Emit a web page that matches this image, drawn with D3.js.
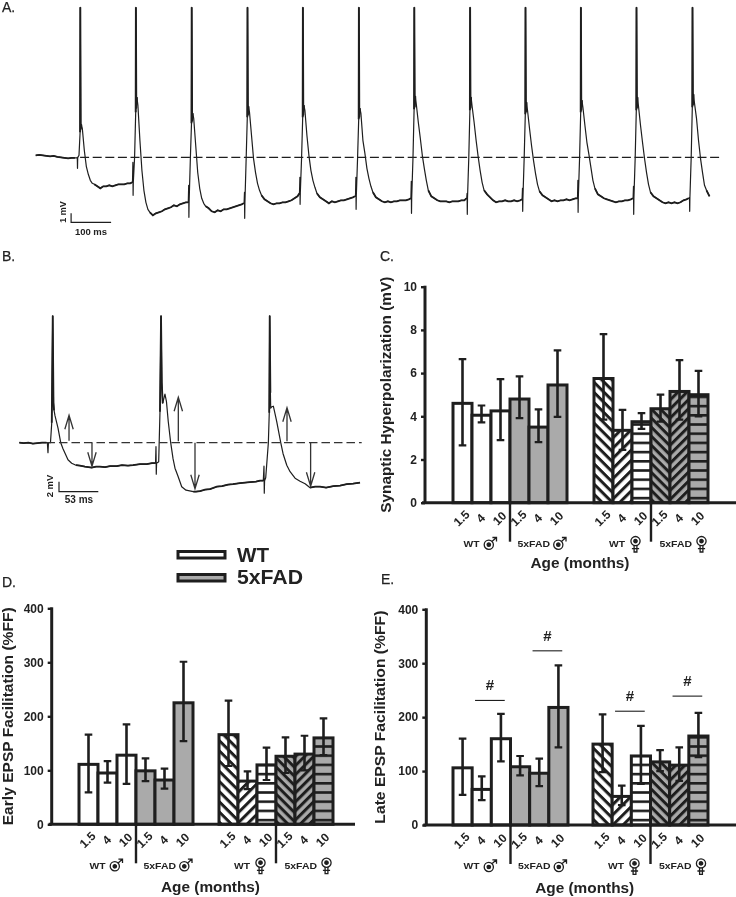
<!DOCTYPE html>
<html><head><meta charset="utf-8">
<script src="https://cdnjs.cloudflare.com/ajax/libs/d3/7.8.5/d3.min.js"></script>
<style>html,body{margin:0;padding:0;background:#fff}svg{display:block;filter:blur(.3px)}text{font-family:"Liberation Sans",Arial,sans-serif;fill:#222}</style>
</head><body><div id="chart"></div>
<script>
// ---------- bar data ----------
const ages = ["1.5","4","10","1.5","4","10","1.5","4","10","1.5","4","10"];
const groupLabels = ["WT","5xFAD","WT","5xFAD"];
const meanC = [4.6,4.05,4.25,4.8,3.5,5.45,5.75,3.35,3.75,4.35,5.15,5.0];
const upperC = [6.65,4.5,5.72,5.85,4.32,7.05,7.8,4.3,4.15,5.0,6.6,6.1];
const lowerC = [2.65,3.72,2.9,3.92,2.8,3.97,3.85,2.45,3.42,3.75,3.85,4.0];
const meanD = [111,95,128,99,82,225,166,80,110,126,130,160];
const upperD = [166,117,185,122,103,301,229,98,142,161,164,196];
const lowerD = [59,77,75,80,66,154,108,65,82,95,100,128];
const meanE = [106,66,160,108,96,218,150,53,128,117,111,165];
const upperE = [160,90,206,128,123,296,205,73,184,139,144,208];
const lowerE = [56,46,118,92,72,144,98,37,76,100,82,126];
const ticksC = [0,2,4,6,8,10];
const ticksFF = [0,100,200,300,400];
const hashStartE = [1,4,7,10];
const hashEndE = [2.7,5.7,8.7,11.7];
const hashValE = [231,323,211,239];

// ---------- trace A: samples relative to each stimulus ----------
const offsetsA = [-8.5,-7.5,-7,-6.5,-3.25,-0.5,0,1,2.5,5,10,15,20,25,30,35,42.5,50,57.5,65,72.5,80,87.5,95,102.5,110,117.5,125,130];
const stimA = [111.5,250.5,390,529.5,668,808,946.5,1086,1224.5,1363,1502,1642];
const baselineA_t = [0,9,18,27,36,45,54,63,72,81,90,98];
const baselineA_v = [0.2,0.25,0.2,0.15,0.1,0.15,0.05,0.0,-0.05,-0.1,-0.05,-0.05];
const sweepA1 = [-0.05,0.0,-1.1,-0.05,0.2,2.5,15,2.8,3.3,2.9,0.7,-0.9,-1.7,-2.3,-2.6,-2.7,-2.9,-3.1,-2.9,-2.9,-2.8,-2.9,-2.8,-2.7,-2.7,-2.7,-2.6,-2.6,-2.5];
const sweepA2 = [-2.5,-0.5,-3.8,-2.5,0,4.5,15,4.9,6.0,5.2,1.7,-1.3,-3.3,-4.5,-5.2,-5.5,-5.8,-5.6,-5.5,-5.4,-5.2,-5.1,-5.0,-4.8,-4.9,-4.7,-4.6,-4.5,-4.5];
const sweepA3 = [-4.5,-2.8,-6.0,-4.5,0,3.4,15,3.6,4.4,3.9,1.2,-1.5,-3.1,-4.1,-4.6,-4.9,-5.1,-5.4,-5.5,-5.3,-5.4,-5.2,-5.2,-5.1,-5.0,-4.9,-4.8,-4.7,-4.6];
const sweepA4 = [-4.6,-3.5,-6.1,-4.6,0,4.0,15,4.2,5.1,4.5,2.2,-0.1,-1.5,-2.6,-3.3,-3.8,-4.2,-4.4,-4.6,-4.7,-4.6,-4.6,-4.5,-4.5,-4.4,-4.3,-4.1,-3.9,-3.6];
const sweepA5 = [-3.6,-2.0,-4.7,-3.6,0,4.0,15,4.2,5.2,4.7,2.2,0.2,-1.3,-2.3,-3.0,-3.6,-4.0,-4.2,-4.4,-4.6,-4.4,-4.5,-4.4,-4.3,-4.3,-4.2,-4.1,-4.0,-3.9];
const sweepA6 = [-3.9,-2.0,-5.2,-3.9,0,3.8,15,4.0,4.9,4.4,1.7,0.4,-1.1,-2.1,-2.9,-3.5,-4.0,-4.2,-4.4,-4.5,-4.4,-4.5,-4.4,-4.4,-4.3,-4.3,-4.3,-4.2,-4.1];
const sweepA7 = [-4.1,-2.4,-5.6,-4.1,0,4.8,15,5.0,6.1,5.3,3.5,1.9,0.2,-1.1,-2.3,-3.3,-3.9,-4.1,-4.3,-4.4,-4.4,-4.4,-4.5,-4.4,-4.4,-4.4,-4.3,-4.3,-4.1];
const sweepA8 = [-4.1,-3.6,-5.7,-4.1,0,4.7,15,4.9,6.0,5.1,3.5,1.7,0.1,-1.3,-2.5,-3.3,-3.7,-4.0,-4.3,-4.5,-4.4,-4.4,-4.3,-4.4,-4.4,-4.3,-4.4,-4.3,-4.2];
const sweepA9 = [-4.2,-3.1,-5.4,-4.2,0,4.3,15,4.5,5.5,4.7,2.9,1.2,-0.3,-1.6,-2.7,-3.4,-3.8,-4.0,-4.2,-4.4,-4.3,-4.4,-4.3,-4.3,-4.2,-4.3,-4.2,-4.1,-4.1];
const sweepA10 = [-4.1,-2.3,-5.5,-4.1,0,4.5,15,4.7,5.7,5.0,3.2,1.5,0.3,-1.0,-2.3,-3.1,-3.7,-3.9,-4.1,-4.2,-4.3,-4.4,-4.5,-4.4,-4.4,-4.3,-4.3,-4.2,-4.1];
const sweepA11 = [-4.1,-2.9,-5.7,-4.1,0,4.7,15,4.9,6.0,5.1,3.2,1.5,-0.1,-1.5,-2.7,-3.5,-3.9,-4.1,-4.3,-4.5,-4.6,-4.5,-4.6,-4.5,-4.6,-4.5,-4.3,-4.2,-4.1];
const sweepA12 = [-4.1,-4.0,-5.4,-4.1,0,5.0,15,5.2,6.3,5.4,3.9,1.7,-0.1,-1.5,-2.8,-3.3,-3.9];
const sweepsA = [sweepA1,sweepA2,sweepA3,sweepA4,sweepA5,sweepA6,sweepA7,sweepA8,sweepA9,sweepA10,sweepA11,sweepA12];

// ---------- trace B ----------
const traceB_t = [0,6,12,18,24,30,36,37.2,38,38.6,41.3,43,44.3,45.3,46,47.3,51.3,54.9,57.9,60.6,64.5,69.4,75.1,80.4,87,95.9,101.6,106.9,113.6,120.2,129,136,144,150.7,159.9,168.8,175.8,180.5,181.1,181.5,181.9,184.7,186.4,187.8,188.8,190,193,195,197.4,200.6,203.7,206.3,210.3,215.2,220.9,230.6,234.1,239.4,246,252.7,261.6,268.6,276.5,283.1,292.4,299,305.6,313.6,318.9,323.3,324.2,324.6,325,326.5,330,331.2,331.8,332.7,333.1,334.8,336.6,338.8,341.1,346.4,349.5,354.4,358.8,365.4,372,378.7,385.3,391.9,398.5,406.5,416.1,425,433.9,442.3,451.5];
const traceB_v = [0.0,-0.1,0.0,-0.2,-0.1,0.0,0.0,0.0,-2.0,0.0,0.0,4,25.4,8,6.5,5.4,2.9,0,-1.2,-2.1,-3.4,-4.1,-4.5,-4.6,-4.8,-5.0,-4.8,-4.8,-4.9,-4.7,-4.7,-4.5,-4.6,-4.5,-4.3,-4.3,-4.1,-4.1,-0.8,-6.3,-4.1,-3.8,6.2,25.4,12,7.9,9.7,8.2,4.2,0,-3.2,-5.1,-6.7,-8.8,-9.5,-9.8,-9.8,-9.7,-9.4,-9.3,-8.8,-8.7,-8.4,-8.3,-8.1,-8.0,-7.9,-7.8,-7.6,-7.6,-4.7,-10.1,-7.6,-7,0,6,25.4,10,6.9,7.2,7.3,5.8,4.2,0,-2.2,-4.5,-5.8,-7.1,-7.7,-8.2,-9,-8.8,-8.8,-9,-8.7,-8.6,-8.3,-8.2,-8.0];
const arrowB_t = [65.9,96.3,210.7,232.8,354.7,386];
const arrowB_from = [0.4,0,0.3,0,0.3,0];
const arrowB_to = [5.5,-4.7,9.1,-9.2,7,-8.7];

const W=736,H=897;
const svg=d3.select("#chart").append("svg").attr("width",W).attr("height",H).attr("viewBox",`0 0 ${W} ${H}`);
const ink="#1e1e1e", grey="#aaaaaa";

// ---------- patterns ----------
const defs=svg.append("defs");
function stripes(id,bg,angle,period,sw){
  const p=defs.append("pattern").attr("id",id).attr("patternUnits","userSpaceOnUse")
    .attr("width",period).attr("height",period).attr("patternTransform",`rotate(${angle})`);
  p.append("rect").attr("width",period).attr("height",period).attr("fill",bg);
  p.append("rect").attr("y",0).attr("width",period).attr("height",sw).attr("fill",ink);
}
stripes("wDown","#fff",45,7.2,3);
stripes("wUp","#fff",-45,7.2,3);
stripes("wH","#fff",0,9.2,2.6);
stripes("gDown",grey,45,6.4,3);
stripes("gUp",grey,-45,6.4,3);
stripes("gH",grey,0,9.2,2.6);
const fills=["#fff","#fff","#fff",grey,grey,grey,"url(#wDown)","url(#wUp)","url(#wH)","url(#gDown)","url(#gUp)","url(#gH)"];

// ---------- text labels ----------
function label(t,x,y,size,weight,rot,anchor,len){
  const e=svg.append("text").attr("x",x).attr("y",y).attr("font-size",size).attr("font-weight",weight||"bold").attr("text-anchor",anchor||"start").text(t);
  if(rot!=null) e.attr("transform",`rotate(${rot},${x},${y})`);
  if(len) e.attr("textLength",len).attr("lengthAdjust","spacingAndGlyphs");
  return e;
}
[["A.",2,12],["B.",2,261],["C.",380,261],["D.",2,587],["E.",381,584]].forEach(d=>label(d[0],d[1],d[2],14,"normal").style("stroke","#222").style("stroke-width",.25));

// ---------- trace A ----------
const xA=d3.scaleLinear().domain([0,1000]).range([35.7,435.7]);
const yA=d3.scaleLinear().domain([0,15]).range([157.3,7.3]);
let ptsA=baselineA_t.map((t,i)=>[t,baselineA_v[i]]);
sweepsA.forEach((s,k)=>s.forEach((v,i)=>ptsA.push([stimA[k]+offsetsA[i],v])));
const lineA=d3.line().x(d=>xA(d[0])).y(d=>yA(d[1]));
svg.append("path").attr("d",lineA(ptsA)).attr("fill","none").attr("stroke",ink).attr("stroke-width",1.2).attr("stroke-linejoin","round");
// noisy stretches and spikes read heavier
const heavyA=(width,from,to)=>sweepsA.forEach((s,k)=>{
  const seg=[];s.forEach((v,i)=>{if(offsetsA[i]>=from&&offsetsA[i]<=to)seg.push([stimA[k]+offsetsA[i],v]);});
  if(seg.length>1)svg.append("path").attr("d",lineA(seg)).attr("fill","none").attr("stroke",ink).attr("stroke-width",width);
});
heavyA(1.8,35,130);
heavyA(1.9,-0.5,2.5);
svg.append("path").attr("d",lineA(baselineA_t.map((t,i)=>[t,baselineA_v[i]]))).attr("fill","none").attr("stroke",ink).attr("stroke-width",1.8);
svg.append("line").attr("x1",xA(111)).attr("x2",xA(1714)).attr("y1",yA(0)).attr("y2",yA(0)).attr("stroke",ink).attr("stroke-width",1.2).attr("stroke-dasharray","9 3.6");
// scale bars A: 100 ms, 1 mV
const barX=xA(88.5),barY=yA(-6.5);
svg.append("path").attr("d",`M${barX},${yA(-5.6)}V${barY}H${barX+xA(100)-xA(0)}`).attr("fill","none").attr("stroke",ink).attr("stroke-width",1.2);
label("1 mV",65.5,212,9,"bold",-90,"middle");
label("100 ms",91,234.5,9.5,"bold",0,"middle");

// ---------- trace B ----------
const xB=d3.scaleLinear().domain([0,53]).range([19.3,59.3]);
const yB=d3.scaleLinear().domain([0,25.4]).range([442.7,315.7]);
const lineB=d3.line().x(d=>xB(d[0])).y(d=>yB(d[1]));
const ptsB=traceB_t.map((t,i)=>[t,traceB_v[i]]);
svg.append("path").attr("d",lineB(ptsB)).attr("fill","none").attr("stroke",ink).attr("stroke-width",1.2).attr("stroke-linejoin","round");
[[0,36],[75,181],[225,323.5],[385,452],[43,47],[186.4,190],[331,333]].forEach(r=>{
  svg.append("path").attr("d",lineB(ptsB.filter(d=>d[0]>=r[0]&&d[0]<=r[1]))).attr("fill","none").attr("stroke",ink).attr("stroke-width",1.8);
});
svg.append("line").attr("x1",xB(36)).attr("x2",361.7).attr("y1",yB(0)).attr("y2",yB(0)).attr("stroke","#333").attr("stroke-width",1.3).attr("stroke-dasharray","8.5 4");
arrowB_t.forEach((t,i)=>{
  const x=xB(t),y0=yB(arrowB_from[i]),y1=yB(arrowB_to[i]),dir=y1<y0?1:-1;
  svg.append("path").attr("d",`M${x},${y0}L${x},${y1}M${x-4.2},${y1+dir*14}L${x},${y1}L${x+4.2},${y1+dir*14}`).attr("fill","none").attr("stroke","#333").attr("stroke-width",1.3);
});
svg.append("path").attr("d",`M59,481.7V491.7H98.3`).attr("fill","none").attr("stroke",ink).attr("stroke-width",1.2);
label("2 mV",53,486,9.5,"bold",-90,"middle");
label("53 ms",79,503,10,"bold",0,"middle");

// ---------- legend ----------
svg.append("rect").attr("x",178).attr("y",551.5).attr("width",47).attr("height",6.5).attr("fill","#fff").attr("stroke",ink).attr("stroke-width",3);
svg.append("rect").attr("x",178).attr("y",574.5).attr("width",47).attr("height",6.5).attr("fill",grey).attr("stroke",ink).attr("stroke-width",3);
label("WT",237,561.7,20,"bold",null,null,32);
label("5xFAD",237,584.3,20,"bold",null,null,66);

// ---------- sex icons ----------
function male(x,y){
  const g=svg.append("g").attr("transform",`translate(${x},${y})`).attr("fill","none").attr("stroke",ink).attr("stroke-width",1.3);
  g.append("circle").attr("cx",-1.2).attr("cy",1.2).attr("r",4.6);
  g.append("circle").attr("cx",-1.2).attr("cy",1.2).attr("r",1.7).attr("fill",ink);
  g.append("path").attr("d","M2.2,-2.2L6.5,-6M2.4,-6H6.5V-2");
}
function female(x,y){
  const g=svg.append("g").attr("transform",`translate(${x},${y})`).attr("fill","none").attr("stroke",ink).attr("stroke-width",1.3);
  g.append("circle").attr("cx",0).attr("cy",-2.4).attr("r",4.6);
  g.append("circle").attr("cx",0).attr("cy",-2.4).attr("r",1.7).attr("fill",ink);
  g.append("path").attr("d","M-1.4,2.2V8.5H1.4V2.2M-3.6,5.2H3.6");
}

// ---------- bar panels ----------
function panel(o){
  const xL=d3.scaleLinear().domain([0,6]).range(o.left);
  const xR=d3.scaleLinear().domain([6,12]).range(o.right);
  const x=i=>i<6?xL(i):xR(i);
  const step=(o.left[1]-o.left[0])/6;
  const y=d3.scaleLinear().domain(o.domain).range(o.yRange);
  const n=o.mean.map((m,i)=>i);
  const g=svg.append("g");
  g.selectAll("rect").data(n).join("rect")
    .attr("x",i=>x(i)).attr("width",step).attr("y",i=>y(o.mean[i])).attr("height",i=>y(0)-y(o.mean[i]))
    .attr("fill",i=>fills[i]).attr("stroke",ink).attr("stroke-width",3).attr("stroke-linejoin","miter");
  const eb=svg.append("g").attr("stroke",ink).attr("fill","none");
  n.forEach(i=>{
    const c=x(i)+step/2;
    eb.append("path").attr("stroke-width",2.6).attr("d",`M${c},${y(o.lower[i])}V${y(o.upper[i])}`);
    eb.append("path").attr("stroke-width",2.2).attr("d",`M${c-3.8},${y(o.upper[i])}h7.6M${c-3.8},${y(o.lower[i])}h7.6`);
  });
  // axes
  const ax=svg.append("g").attr("transform",`translate(${o.axisX},0)`)
    .call(d3.axisLeft(y).tickValues(o.ticks).tickSize(4).tickPadding(4).tickFormat(d3.format("d")));
  ax.select(".domain").attr("stroke",ink).attr("stroke-width",3).attr("d",`M0,${y(0)}V${y(o.domain[1])-1}`);
  ax.selectAll(".tick line").attr("stroke",ink).attr("stroke-width",2.4);
  ax.selectAll(".tick text").attr("font-size",12).attr("font-weight","bold").attr("font-family",'"Liberation Sans",Arial,sans-serif').attr("fill","#222");
  svg.append("line").attr("x1",o.axisX-3).attr("x2",o.axisEnd).attr("y1",y(0)).attr("y2",y(0)).attr("stroke",ink).attr("stroke-width",3);
  // dividers
  [x(3),x(9)].forEach(dx=>svg.append("line").attr("x1",dx).attr("x2",dx).attr("y1",y(0)).attr("y2",y(0)+39).attr("stroke",ink).attr("stroke-width",2.4));
  // tick labels
  ages.forEach((a,i)=>{
    const c=x(i)+step/2;
    label(a,c+2,y(0)+18.5,12,"bold",-45,"middle");
  });
  // group labels
  const ly=y(0)+44.3;
  const starts=[x(0)+10.5,x(3)+7.5,x(6)+15,x(9)+8.5];
  groupLabels.forEach((t,i)=>{
    label(t,starts[i],ly,9.5,"bold",null,null,t==="WT"?16:32.5);
    const ix=starts[i]+(t==="WT"?26.5:42), iy=ly-3.5;
    if(i<2) male(ix,iy); else female(ix,iy);
  });
  // titles
  label(o.title,o.titleX,(y(0)+y(o.domain[1]))/2+o.titleDy,14,"bold",-90,"middle",o.titleLen);
  label("Age (months)",o.ageX,o.ageY,15,"bold",null,"middle",99);
  return {x,y,step};
}
panel({mean:meanC,upper:upperC,lower:lowerC,domain:[0,10],ticks:ticksC,left:[453,567],right:[594,708],yRange:[502.7,286.7],axisX:425,axisEnd:736,title:"Synaptic Hyperpolarization (mV)",titleX:391.5,titleDy:0,titleLen:236,ageX:580,ageY:568});
panel({mean:meanD,upper:upperD,lower:lowerD,domain:[0,400],ticks:ticksFF,left:[79,193],right:[219,333],yRange:[824.3,608.3],axisX:51.7,axisEnd:355,title:"Early EPSP Facilitation (%FF)",titleX:13,titleDy:0,titleLen:218,ageX:210.5,ageY:892});
const pE=panel({mean:meanE,upper:upperE,lower:lowerE,domain:[0,400],ticks:ticksFF,left:[453,568],right:[593,708],yRange:[825,609.3],axisX:426.3,axisEnd:736,title:"Late EPSP Facilitation (%FF)",titleX:385.5,titleDy:0,titleLen:213,ageX:584.7,ageY:892.5});
hashStartE.forEach((s,i)=>{
  const x1=pE.x(s)+pE.step*0.15, x2=pE.x(Math.floor(hashEndE[i]))+pE.step*(hashEndE[i]%1), yy=pE.y(hashValE[i]);
  svg.append("line").attr("x1",x1).attr("x2",x2).attr("y1",yy).attr("y2",yy).attr("stroke",ink).attr("stroke-width",1.1);
  label("#",(x1+x2)/2,yy-10,15,"bold",null,"middle");
});
</script></body></html>
